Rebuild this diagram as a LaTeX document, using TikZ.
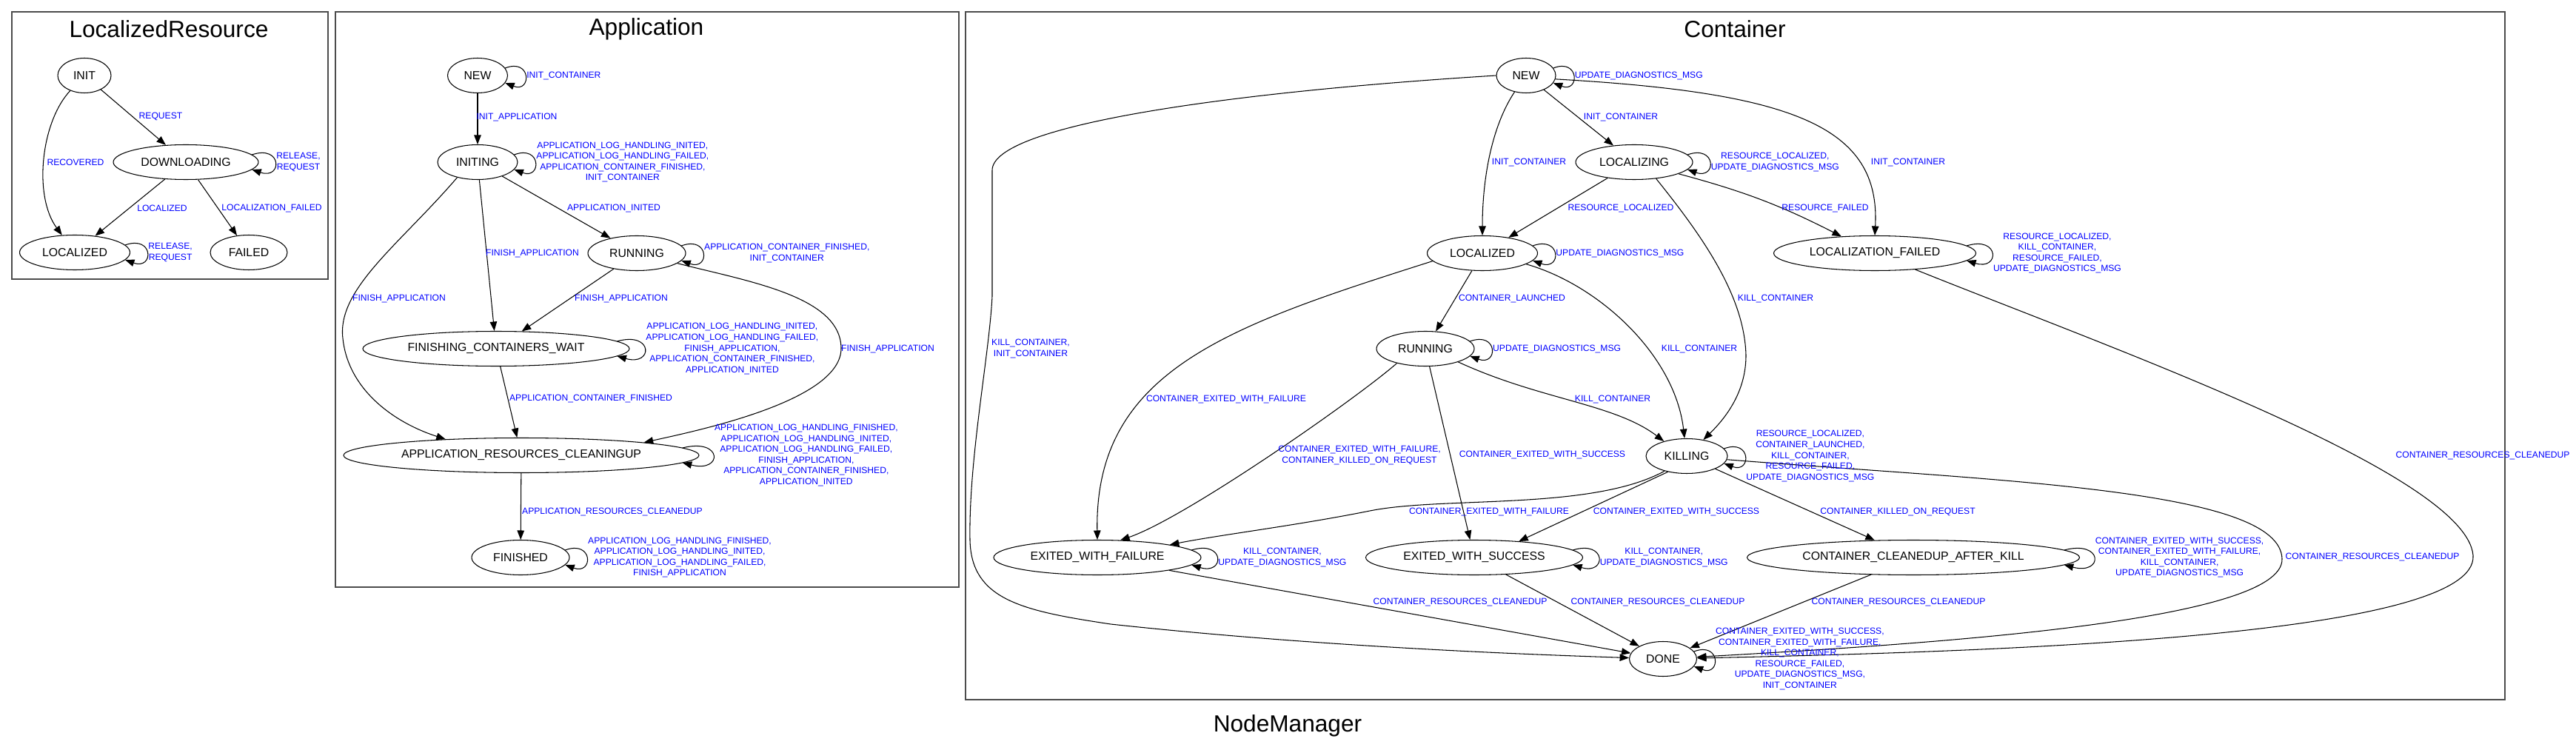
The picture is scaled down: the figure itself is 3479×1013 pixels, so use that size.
\documentclass[tikz,border=0pt]{standalone}
\usepackage{fontspec}
\setmainfont{Liberation Sans}
\usetikzlibrary{arrows.meta,calc,shapes.geometric}

\newcommand{\nodefont}{\fontsize{9}{11}\selectfont}
\newcommand{\lblfont}{\fontsize{6.9}{8.3}\selectfont}
\newcommand{\titlefont}{\fontsize{18}{22}\selectfont}
\newcommand{\selfloop}[4]{%
  \draw[arrow] ($(#1.east)+(-0.095*#2,-10)$) .. controls ($(#1.east)+(32,-24)$)
    and ($(#1.east)+(32,24)$) .. ($(#1.east)+(-0.095*#2,10)$);
  \node[lbl, anchor=west] (#4) at ($(#1.east)+(25-0.024*#2,0)$) {#3};}

\begin{document}
\begin{tikzpicture}[x=0.02cm, y=-0.02cm,
    state/.style={ellipse, draw, line width=0.6pt, inner sep=0pt,
                  minimum height=0.94cm, minimum width=#1*0.02cm, font=\nodefont},
    lbl/.style={font=\lblfont, text=blue, align=center, inner sep=0.5pt},
    title/.style={font=\titlefont, inner sep=0pt},
    arrow/.style={-{Triangle[length=0.25cm, width=0.19cm]}, line width=0.6pt},
    cluster/.style={draw=black!70, line width=0.8pt}
  ]
  \useasboundingbox (0,0) rectangle (3479,1013);

  \draw[cluster] (16,16) rectangle (443,377);
  \draw[cluster] (453,16) rectangle (1295,793);
  \draw[cluster] (1304,16) rectangle (3383,945);
  \node[title] (lr_title) at (228,39) {LocalizedResource};
  \node[title] (a_title) at (873,39) {Application};
  \node[title] (c_title) at (2343,39) {Container};
  \node[title] (nm_title) at (1739,980) {NodeManager};

  \node[state=72] (lr_init) at (114,102) {INIT};
  \node[state=196] (lr_down) at (251,219) {DOWNLOADING};
  \node[state=149] (lr_loc) at (101,341) {LOCALIZED};
  \node[state=104] (lr_fail) at (336,341) {FAILED};

  \draw[arrow] (lr_init) -- (lr_down);
  \draw[arrow] (lr_init) .. controls (55,165) and (45,265) .. (lr_loc);
  \draw[arrow] (lr_down) -- (lr_loc);
  \draw[arrow] (lr_down) -- (lr_fail);
  \selfloop{lr_down}{98}{RELEASE,\\REQUEST}{lr_t5}
  \selfloop{lr_loc}{74.5}{RELEASE,\\REQUEST}{lr_t6}
  \node[lbl] (lr_t1) at (217,157) {REQUEST};
  \node[lbl] (lr_t2) at (102,219) {RECOVERED};
  \node[lbl] (lr_t3) at (219,281) {LOCALIZED};
  \node[lbl] (lr_t4) at (367,281) {LOCALIZATION\_FAILED};

  \node[state=81] (a_new) at (645,102) {NEW};
  \node[state=108] (a_initing) at (645,219) {INITING};
  \node[state=132] (a_running) at (860,342) {RUNNING};
  \node[state=360] (a_fcw) at (670,471) {FINISHING\_CONTAINERS\_WAIT};
  \node[state=480] (a_arc) at (704,615) {APPLICATION\_RESOURCES\_CLEANINGUP};
  \node[state=132] (a_fin) at (703,753) {FINISHED};

  \draw[arrow] (a_new) -- (a_initing);
  \draw[arrow] (a_initing) -- (a_running);
  \draw[arrow] (a_initing) -- (a_fcw);
  \draw[arrow] (a_initing.217) .. controls (540,330) and (455,390) .. (463,457)
    .. controls (470,525) and (530,570) .. (a_arc.168);
  \draw[arrow] (a_running) -- (a_fcw);
  \draw[arrow] (a_running.346) .. controls (1010,380) and (1135,400) .. (1136,470)
    .. controls (1137,540) and (950,580) .. (a_arc.6);
  \draw[arrow] (a_fcw) -- (a_arc);
  \draw[arrow] (a_arc) -- (a_fin);
  \selfloop{a_new}{40.5}{INIT\_CONTAINER}{a_l1}
  \selfloop{a_initing}{54}{APPLICATION\_LOG\_HANDLING\_INITED,\\APPLICATION\_LOG\_HANDLING\_FAILED,\\APPLICATION\_CONTAINER\_FINISHED,\\INIT\_CONTAINER}{a_l2}
  \selfloop{a_running}{66}{APPLICATION\_CONTAINER\_FINISHED,\\INIT\_CONTAINER}{a_l3}
  \selfloop{a_fcw}{180}{APPLICATION\_LOG\_HANDLING\_INITED,\\APPLICATION\_LOG\_HANDLING\_FAILED,\\FINISH\_APPLICATION,\\APPLICATION\_CONTAINER\_FINISHED,\\APPLICATION\_INITED}{a_l4}
  \selfloop{a_arc}{240}{APPLICATION\_LOG\_HANDLING\_FINISHED,\\APPLICATION\_LOG\_HANDLING\_INITED,\\APPLICATION\_LOG\_HANDLING\_FAILED,\\FINISH\_APPLICATION,\\APPLICATION\_CONTAINER\_FINISHED,\\APPLICATION\_INITED}{a_l5}
  \selfloop{a_fin}{66}{APPLICATION\_LOG\_HANDLING\_FINISHED,\\APPLICATION\_LOG\_HANDLING\_INITED,\\APPLICATION\_LOG\_HANDLING\_FAILED,\\FINISH\_APPLICATION}{a_l6}
  \node[lbl] (a_t1) at (698,158) {INIT\_APPLICATION};
  \node[lbl] (a_t2) at (829,281) {APPLICATION\_INITED};
  \node[lbl] (a_t3) at (719,342) {FINISH\_APPLICATION};
  \node[lbl] (a_t4) at (539,403) {FINISH\_APPLICATION};
  \node[lbl] (a_t5) at (839,403) {FINISH\_APPLICATION};
  \node[lbl] (a_t6) at (1199,471) {FINISH\_APPLICATION};
  \node[lbl] (a_t7) at (798,538) {APPLICATION\_CONTAINER\_FINISHED};
  \node[lbl] (a_t8) at (827,691) {APPLICATION\_RESOURCES\_CLEANEDUP};

  \node[state=80] (c_new) at (2061,102) {NEW};
  \node[state=158] (c_lzing) at (2207,219) {LOCALIZING};
  \node[state=149] (c_lzed) at (2002,342) {LOCALIZED};
  \node[state=273] (c_lfail) at (2532,342) {LOCALIZATION\_FAILED};
  \node[state=132] (c_run) at (1925,471) {RUNNING};
  \node[state=110] (c_kill) at (2278,616) {KILLING};
  \node[state=280] (c_ewf) at (1482,753) {EXITED\_WITH\_FAILURE};
  \node[state=293] (c_ews) at (1991,753) {EXITED\_WITH\_SUCCESS};
  \node[state=449] (c_ccak) at (2584,753) {CONTAINER\_CLEANEDUP\_AFTER\_KILL};
  \node[state=91] (c_done) at (2246,890) {DONE};

  \draw[arrow] (c_new) -- (c_lzing);
  \draw[arrow] (c_new.235) .. controls (2015,170) and (2002,240) .. (c_lzed.north);
  \draw[arrow] (c_new.353) .. controls (2420,125) and (2540,170) .. (c_lfail.north);
  \draw[arrow] (c_new.west) .. controls (1650,125) and (1340,170) .. (1340,230) -- (1340,400)
    .. controls (1336,480) and (1308,620) .. (1310,730)
    .. controls (1312,810) and (1380,825) .. (1500,843)
    .. controls (1750,870) and (2000,882) .. (c_done);
  \draw[arrow] (c_lzing) -- (c_lzed);
  \draw[arrow] (c_lzing) to[bend left=6] (c_lfail);
  \draw[arrow] (c_lzing.323) .. controls (2300,320) and (2356,400) .. (2358,480)
    .. controls (2358,530) and (2330,565) .. (c_kill);
  \draw[arrow] (c_lzed.346) .. controls (2160,385) and (2262,480) .. (c_kill.97);
  \draw[arrow] (c_lzed) -- (c_run);
  \draw[arrow] (c_lzed.189) .. controls (1660,440) and (1478,500) .. (c_ewf.north);
  \draw[arrow] (c_run.207) .. controls (1830,540) and (1600,700) .. (c_ewf.37);
  \draw[arrow] (c_run) -- (c_ews);
  \draw[arrow] (c_run.338) .. controls (2080,540) and (2180,545) .. (c_kill.147);
  \draw[arrow] (c_kill.214) .. controls (2150,690) and (1950,670) .. (1850,690)
    .. controls (1750,710) and (1650,722) .. (c_ewf.10);
  \draw[arrow] (c_kill.220) -- (c_ews.20);
  \draw[arrow] (c_kill) -- (c_ccak);
  \draw[arrow] (c_kill.355) .. controls (2700,650) and (3080,660) .. (3082,755)
    .. controls (3084,840) and (2600,870) .. (c_done);
  \draw[arrow] (c_lfail.338) .. controls (2850,470) and (3330,640) .. (3340,750)
    .. controls (3348,860) and (2700,880) .. (c_done);
  \draw[arrow] (c_ewf) -- (c_done);
  \draw[arrow] (c_ews) -- (c_done);
  \draw[arrow] (c_ccak) -- (c_done);
  \selfloop{c_new}{40}{UPDATE\_DIAGNOSTICS\_MSG}{c_l1}
  \selfloop{c_lzing}{79}{RESOURCE\_LOCALIZED,\\UPDATE\_DIAGNOSTICS\_MSG}{c_l2}
  \selfloop{c_lzed}{74.5}{UPDATE\_DIAGNOSTICS\_MSG}{c_l3}
  \selfloop{c_lfail}{136.5}{RESOURCE\_LOCALIZED,\\KILL\_CONTAINER,\\RESOURCE\_FAILED,\\UPDATE\_DIAGNOSTICS\_MSG}{c_l4}
  \selfloop{c_run}{66}{UPDATE\_DIAGNOSTICS\_MSG}{c_l5}
  \selfloop{c_kill}{55}{RESOURCE\_LOCALIZED,\\CONTAINER\_LAUNCHED,\\KILL\_CONTAINER,\\RESOURCE\_FAILED,\\UPDATE\_DIAGNOSTICS\_MSG}{c_l6}
  \selfloop{c_ewf}{140}{KILL\_CONTAINER,\\UPDATE\_DIAGNOSTICS\_MSG}{c_l7}
  \selfloop{c_ews}{146.5}{KILL\_CONTAINER,\\UPDATE\_DIAGNOSTICS\_MSG}{c_l8}
  \selfloop{c_ccak}{224.5}{CONTAINER\_EXITED\_WITH\_SUCCESS,\\CONTAINER\_EXITED\_WITH\_FAILURE,\\KILL\_CONTAINER,\\UPDATE\_DIAGNOSTICS\_MSG}{c_l9}
  \selfloop{c_done}{45.5}{CONTAINER\_EXITED\_WITH\_SUCCESS,\\CONTAINER\_EXITED\_WITH\_FAILURE,\\KILL\_CONTAINER,\\RESOURCE\_FAILED,\\UPDATE\_DIAGNOSTICS\_MSG,\\INIT\_CONTAINER}{c_l10}
  \node[lbl] (c_t1) at (2189,158) {INIT\_CONTAINER};
  \node[lbl] (c_t2) at (2065,219) {INIT\_CONTAINER};
  \node[lbl] (c_t3) at (2577,219) {INIT\_CONTAINER};
  \node[lbl] (c_t4) at (1392,471) {KILL\_CONTAINER,\\INIT\_CONTAINER};
  \node[lbl] (c_t5) at (2189,281) {RESOURCE\_LOCALIZED};
  \node[lbl] (c_t6) at (2465,281) {RESOURCE\_FAILED};
  \node[lbl] (c_t7) at (2398,403) {KILL\_CONTAINER};
  \node[lbl] (c_t8) at (2295,471) {KILL\_CONTAINER};
  \node[lbl] (c_t9) at (2042,403) {CONTAINER\_LAUNCHED};
  \node[lbl] (c_t10) at (1656,539) {CONTAINER\_EXITED\_WITH\_FAILURE};
  \node[lbl] (c_t11) at (1836,615) {CONTAINER\_EXITED\_WITH\_FAILURE,\\CONTAINER\_KILLED\_ON\_REQUEST};
  \node[lbl] (c_t12) at (2083,614) {CONTAINER\_EXITED\_WITH\_SUCCESS};
  \node[lbl] (c_t13) at (2178,539) {KILL\_CONTAINER};
  \node[lbl] (c_t14) at (2011,691) {CONTAINER\_EXITED\_WITH\_FAILURE};
  \node[lbl] (c_t15) at (2264,691) {CONTAINER\_EXITED\_WITH\_SUCCESS};
  \node[lbl] (c_t16) at (2563,691) {CONTAINER\_KILLED\_ON\_REQUEST};
  \node[lbl] (c_t17) at (3204,752) {CONTAINER\_RESOURCES\_CLEANEDUP};
  \node[lbl] (c_t18) at (3353,615) {CONTAINER\_RESOURCES\_CLEANEDUP};
  \node[lbl] (c_t19) at (1972,813) {CONTAINER\_RESOURCES\_CLEANEDUP};
  \node[lbl] (c_t20) at (2239,813) {CONTAINER\_RESOURCES\_CLEANEDUP};
  \node[lbl] (c_t21) at (2564,813) {CONTAINER\_RESOURCES\_CLEANEDUP};
\end{tikzpicture}
\end{document}
